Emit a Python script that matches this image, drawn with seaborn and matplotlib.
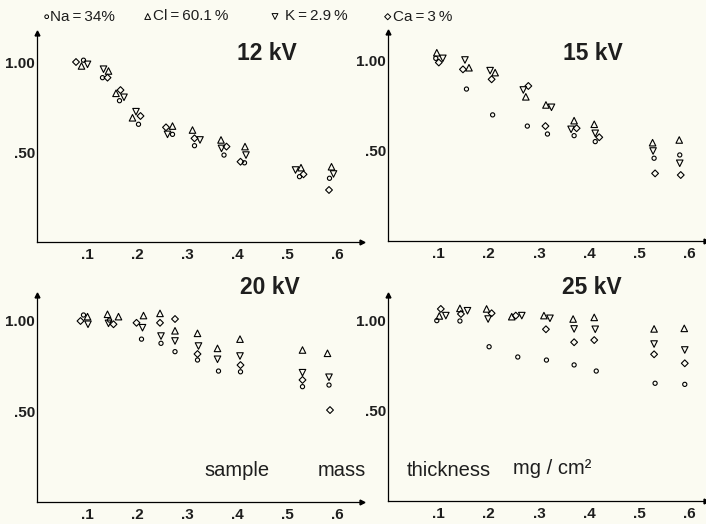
import numpy as np
import pandas as pd
import matplotlib
matplotlib.use("Agg")
import matplotlib.pyplot as plt
import seaborn as sns

sns.set_theme(style="white")
plt.rcParams["font.family"] = ["Liberation Sans", "DejaVu Sans"]

# ---------------- data ----------------
# legend entries
ELEMENTS = ["Na", "Cl", "K", "Ca"]
LEGEND_TEXT = ["Na\u2009=\u200934%", "Cl\u2009=\u200960.1\u2009%", "K\u2009=\u20092.9\u2009%", "Ca\u2009=\u20093\u2009%"]
PANEL_TITLES = ["12 kV", "15 kV", "20 kV", "25 kV"]
X_TICKS = [0.1, 0.2, 0.3, 0.4, 0.5, 0.6]
X_TICK_LABELS = [".1", ".2", ".3", ".4", ".5", ".6"]
Y_TICKS = [0.1, 0.2, 0.3, 0.4, 0.5, 0.6, 0.7, 0.8, 0.9, 1.0]
Y_TICK_LABELS = ["", "", "", "", ".50", "", "", "", "", "1.00"]

# 12 kV
na12_x = [0.093, 0.131, 0.165, 0.203, 0.271, 0.315, 0.374, 0.415, 0.525, 0.585]
na12_y = [1.01, 0.913, 0.785, 0.654, 0.598, 0.535, 0.483, 0.44, 0.363, 0.354]
cl12_x = [0.089, 0.143, 0.158, 0.191, 0.271, 0.311, 0.368, 0.416, 0.528, 0.589]
cl12_y = [0.978, 0.95, 0.826, 0.69, 0.644, 0.622, 0.567, 0.53, 0.413, 0.418]
k12_x = [0.101, 0.133, 0.174, 0.198, 0.261, 0.326, 0.369, 0.418, 0.517, 0.593]
k12_y = [0.987, 0.96, 0.804, 0.724, 0.598, 0.567, 0.52, 0.483, 0.40, 0.378]
ca12_x = [0.078, 0.141, 0.167, 0.207, 0.258, 0.315, 0.379, 0.407, 0.533, 0.584]
ca12_y = [1.00, 0.913, 0.844, 0.70, 0.637, 0.576, 0.53, 0.446, 0.376, 0.289]

# 15 kV
na15_x = [0.095, 0.156, 0.208, 0.277, 0.317, 0.370, 0.412, 0.529, 0.580]
na15_y = [1.013, 0.843, 0.70, 0.638, 0.594, 0.585, 0.552, 0.46, 0.478]
cl15_x = [0.097, 0.161, 0.213, 0.274, 0.314, 0.370, 0.410, 0.526, 0.579]
cl15_y = [1.044, 0.961, 0.934, 0.80, 0.755, 0.668, 0.648, 0.546, 0.561]
k15_x = [0.109, 0.153, 0.203, 0.269, 0.325, 0.364, 0.412, 0.527, 0.580]
k15_y = [1.013, 1.004, 0.945, 0.838, 0.742, 0.62, 0.598, 0.50, 0.432]
ca15_x = [0.101, 0.149, 0.206, 0.279, 0.313, 0.375, 0.420, 0.531, 0.582]
ca15_y = [0.99, 0.952, 0.897, 0.86, 0.638, 0.626, 0.576, 0.376, 0.367]

# 20 kV
na20_x = [0.093, 0.145, 0.209, 0.248, 0.276, 0.321, 0.363, 0.407, 0.531, 0.584]
na20_y = [1.033, 1.005, 0.90, 0.877, 0.831, 0.785, 0.724, 0.72, 0.638, 0.647]
cl20_x = [0.101, 0.141, 0.163, 0.213, 0.246, 0.276, 0.321, 0.361, 0.406, 0.531, 0.581]
cl20_y = [1.024, 1.037, 1.024, 1.03, 1.042, 0.946, 0.932, 0.849, 0.90, 0.84, 0.822]
k20_x = [0.102, 0.143, 0.211, 0.248, 0.276, 0.323, 0.361, 0.406, 0.531, 0.584]
k20_y = [0.982, 0.987, 0.963, 0.917, 0.89, 0.862, 0.789, 0.807, 0.715, 0.69]
ca20_x = [0.087, 0.153, 0.199, 0.246, 0.276, 0.321, 0.407, 0.531, 0.586]
ca20_y = [1.00, 0.982, 0.99, 0.99, 1.011, 0.818, 0.757, 0.675, 0.509]

# 25 kV
na25_x = [0.097, 0.143, 0.201, 0.258, 0.315, 0.370, 0.414, 0.531, 0.590]
na25_y = [1.002, 1.00, 0.857, 0.80, 0.783, 0.756, 0.722, 0.654, 0.648]
cl25_x = [0.102, 0.143, 0.196, 0.246, 0.310, 0.368, 0.410, 0.529, 0.589]
cl25_y = [1.028, 1.07, 1.067, 1.024, 1.03, 1.011, 1.02, 0.956, 0.959]
k25_x = [0.115, 0.158, 0.199, 0.266, 0.322, 0.370, 0.412, 0.529, 0.590]
k25_y = [1.03, 1.057, 1.011, 1.03, 1.015, 0.956, 0.954, 0.872, 0.839]
ca25_x = [0.105, 0.145, 0.206, 0.254, 0.314, 0.370, 0.410, 0.529, 0.590]
ca25_y = [1.067, 1.039, 1.043, 1.03, 0.954, 0.882, 0.894, 0.815, 0.765]

panels = [
    {"Na": (na12_x, na12_y), "Cl": (cl12_x, cl12_y), "K": (k12_x, k12_y), "Ca": (ca12_x, ca12_y)},
    {"Na": (na15_x, na15_y), "Cl": (cl15_x, cl15_y), "K": (k15_x, k15_y), "Ca": (ca15_x, ca15_y)},
    {"Na": (na20_x, na20_y), "Cl": (cl20_x, cl20_y), "K": (k20_x, k20_y), "Ca": (ca20_x, ca20_y)},
    {"Na": (na25_x, na25_y), "Cl": (cl25_x, cl25_y), "K": (k25_x, k25_y), "Ca": (ca25_x, ca25_y)},
]

# ---------------- style ----------------
MARKERS = {"Na": "o", "Cl": "^", "K": "v", "Ca": "D"}
SIZES = {"Na": 9, "Cl": 22, "K": 22, "Ca": 12}
BG = "#fbfbf2"
INK = "#1e1e1e"

W, H = 706, 524
fig = plt.figure(figsize=(W / 100, H / 100), dpi=100, facecolor=BG)


def px_rect(x0, ybot, wpx, hpx):
    return [x0 / W, (H - ybot) / H, wpx / W, hpx / H]


# axes geometry: (left px, bottom px, xmax, ymax, px per unit x, px per unit y)
geom = [
    (37, 242.0, 0.65, 1.16, 500, 180),
    (388, 241.3, 0.632, 1.16, 503, 180.6),
    (37, 502.4, 0.65, 1.145, 500, 181.4),
    (388, 501.0, 0.632, 1.145, 503, 180),
]

axes = []
for i, (x0, yb, xmax, ymax, sx, sy) in enumerate(geom):
    ax = fig.add_axes(px_rect(x0, yb, xmax * sx, ymax * sy))
    ax.set_facecolor("none")
    for el in ELEMENTS:
        xs, ys = panels[i][el]
        df = pd.DataFrame({"x": xs, "y": ys})
        sns.scatterplot(data=df, x="x", y="y", ax=ax, marker=MARKERS[el],
                        s=SIZES[el], facecolor="none", edgecolor="black",
                        linewidth=0.8, legend=False, clip_on=False, zorder=3)
    ax.set_xlim(0, xmax)
    ax.set_ylim(0, ymax)
    ax.set_xlabel("")
    ax.set_ylabel("")
    ax.set_xticks(X_TICKS)
    ax.set_xticklabels(X_TICK_LABELS)
    ax.set_yticks(Y_TICKS)
    ax.set_yticklabels(Y_TICK_LABELS)
    ax.tick_params(axis="both", direction="in", length=4, width=0.8,
                   colors="black", labelsize=11, labelcolor=INK)
    ax.tick_params(axis="x", pad=4)
    ax.tick_params(axis="y", pad=1.5)
    for lab in ax.get_xticklabels() + ax.get_yticklabels():
        lab.set_fontweight("bold")
    for s in ["top", "right"]:
        ax.spines[s].set_visible(False)
    for s in ["left", "bottom"]:
        ax.spines[s].set_color("black")
        ax.spines[s].set_linewidth(0.9)
    # small arrow heads at the axis ends
    ax.plot([1], [0], marker=">", ms=3.5, color="black", transform=ax.transAxes, clip_on=False)
    ax.plot([0], [1], marker="^", ms=3.5, color="black", transform=ax.transAxes, clip_on=False)
    axes.append(ax)

# panel titles
title_pos = [(267, 53), (593, 53), (270, 287), (592, 287)]
for t, (px, py) in zip(PANEL_TITLES, title_pos):
    fig.text(px / W, 1 - py / H, t, ha="center", va="center",
             fontsize=16.5, fontweight="bold", color=INK)

# legend row at top
leg_marker_px = [(46.7, 16.7), (147.7, 16.5), (275, 16.5), (387.7, 16.7)]
leg_text_px = [49.5, 153, 285, 393]
leg_ax = fig.add_axes([0, 0, 1, 1], facecolor="none")
leg_ax.set_xlim(0, W)
leg_ax.set_ylim(H, 0)
leg_ax.axis("off")
for el, (mx, my), tx, lab in zip(ELEMENTS, leg_marker_px, leg_text_px, LEGEND_TEXT):
    leg_ax.scatter([mx], [my], marker=MARKERS[el], s=SIZES[el] * 0.8,
                   facecolor="none", edgecolor="black", linewidth=0.7)
    leg_ax.text(tx, my, lab, ha="left", va="center", fontsize=11, color=INK)

# axis description text
fig.text(237 / W, 1 - 470 / H, "sample", ha="center", va="center", fontsize=14.5, color=INK)
fig.text(342 / W, 1 - 470 / H, "mass", ha="center", va="center", fontsize=14.5, color=INK)
fig.text(449 / W, 1 - 470 / H, "thickness", ha="center", va="center", fontsize=14.5, color=INK)
fig.text(552 / W, 1 - 468 / H, "mg / cm²", ha="center", va="center", fontsize=14.5, color=INK)

fig.savefig("out.png", dpi=100, facecolor=BG)
